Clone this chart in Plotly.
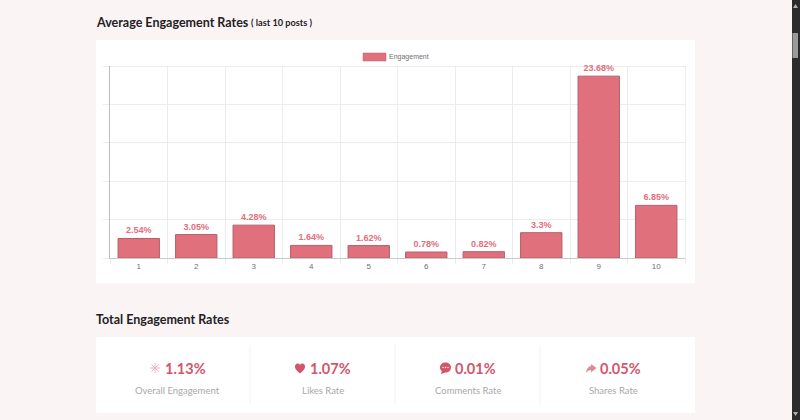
import plotly.graph_objects as go

W, H = 800, 420

# Chart data
posts = ["1", "2", "3", "4", "5", "6", "7", "8", "9", "10"]
engagement = [2.54, 3.05, 4.28, 1.64, 1.62, 0.78, 0.82, 3.3, 23.68, 6.85]
labels = [f"<b>{v}%</b>" for v in engagement]

kpi_values = ["1.13%", "1.07%", "0.01%", "0.05%"]
kpi_names = ["Overall Engagement", "Likes Rate", "Comments Rate", "Shares Rate"]

BG = "#faf4f4"
BAR = "#e0707c"
BAR_EDGE = "#b5606e"
ACCENT = "#d2566a"
INK = "#1f2024"
MUTED = "#a9a9a9"
GRID = "#ececec"
UI_FONT = "Lato"
CHART_FONT = "Liberation Sans"


def px(x):
    return x / W


def py(y):
    return 1 - y / H


def rect(x0, y0, x1, y1, fill, line=None, width=0):
    return dict(type="rect", xref="paper", yref="paper", layer="below",
                x0=px(x0), x1=px(x1), y0=py(y0), y1=py(y1),
                fillcolor=fill, line=dict(color=line or fill, width=width))


def seg(x0, y0, x1, y1, color, width=1):
    return dict(type="line", xref="paper", yref="paper", layer="below",
                x0=px(x0), x1=px(x1), y0=py(y0), y1=py(y1),
                line=dict(color=color, width=width))


def path(points, fill, close=True, line=None, width=0, layer="above"):
    """Build a paper-referenced path from page-pixel commands."""
    parts = []
    for cmd, *nums in points:
        coords = [f"{px(nums[i])},{py(nums[i + 1])}" for i in range(0, len(nums), 2)]
        parts.append(cmd + " " + " ".join(coords))
    d = " ".join(parts) + (" Z" if close else "")
    return dict(type="path", xref="paper", yref="paper", layer=layer, path=d,
                fillcolor=fill, line=dict(color=line or fill, width=width))


def text(x, y, s, size, color, bold=False, anchor="left", family=UI_FONT):
    return dict(xref="paper", yref="paper", x=px(x), y=py(y), text=f"<b>{s}</b>" if bold else s,
                showarrow=False, xanchor=anchor, yanchor="middle",
                font=dict(family=family, size=size, color=color), borderpad=0, borderwidth=0)


fig = go.Figure(go.Bar(
    x=posts, y=engagement, text=labels, textposition="outside", cliponaxis=False,
    textfont=dict(family=CHART_FONT, size=9, color=BAR),
    textangle=0, constraintext="none", width=0.72,
    marker=dict(color=BAR, line=dict(color=BAR_EDGE, width=1)),
    name="Engagement", hoverinfo="skip",
))

shapes = [
    rect(96, 40, 695, 283, "#ffffff"),
    rect(96, 337, 695, 413, "#ffffff"),
    rect(363, 53, 386, 61, BAR, BAR_EDGE, 0.5),
    # closing grid lines on the top and right of the plot
    seg(104, 66.5, 685, 66.5, GRID),
    seg(685.5, 66, 685.5, 263, GRID),
    # scrollbar
    rect(792, 0, 800, 420, "#2c2c2c"),
    rect(792.5, 33, 798, 58, "#9a9a9a"),
    path([("M", 795.5, 4), ("L", 798, 8), ("L", 793, 8)], "#b0b0b0", layer="below"),
    path([("M", 795.5, 416), ("L", 798, 412), ("L", 793, 412)], "#b0b0b0", layer="below"),
]
for x in (250, 395, 540):
    shapes.append(seg(x, 345, x, 405, "#f4f0f0"))

# Sparkle icon
for dx0, dy0, dx1, dy1 in [(-5, 0, 5, 0), (0, -5, 0, 5), (-3.5, -3.5, 3.5, 3.5), (-3.5, 3.5, 3.5, -3.5)]:
    shapes.append(seg(155 + dx0, 368 + dy0, 155 + dx1, 368 + dy1, "#eeb4bd"))

# Heart icon
shapes.append(path([("M", 300, 373.5), ("C", 296, 370, 295, 368.5, 295, 366.5),
                    ("C", 295, 363.5, 298.5, 362.5, 300, 365),
                    ("C", 301.5, 362.5, 305, 363.5, 305, 366.5),
                    ("C", 305, 368.5, 304, 370, 300, 373.5)], ACCENT))

# Comment bubble icon
shapes.append(path([("M", 445.5, 362.5), ("C", 448.5, 362.5, 451, 364.5, 451, 367.5),
                    ("C", 451, 370.5, 448.5, 372.5, 445.5, 372.5),
                    ("L", 441, 374), ("L", 441.8, 371),
                    ("C", 440.5, 370, 440, 369, 440, 367.5),
                    ("C", 440, 364.5, 442.5, 362.5, 445.5, 362.5)], ACCENT))
for cx in (443, 445.5, 448):
    shapes.append(dict(type="circle", xref="paper", yref="paper",
                       x0=px(cx - 0.7), x1=px(cx + 0.7), y0=py(368.2), y1=py(366.8),
                       fillcolor="#ffffff", line=dict(width=0)))

# Share arrow icon
shapes.append(path([("M", 591, 364), ("L", 596.5, 368), ("L", 591, 372.5), ("L", 591, 370),
                    ("C", 589, 370, 587.5, 371, 586, 373),
                    ("C", 586.5, 369, 588, 366.5, 591, 366)], "#dd8a96"))

annotations = [
    text(96, 22, "Average Engagement Rates", 12.5, INK, bold=True),
    text(251, 22.5, "( last 10 posts )", 9.2, INK, bold=True),
    text(96, 319, "Total Engagement Rates", 12.5, INK, bold=True),
    text(389, 57, "Engagement", 7, "#707070", family=CHART_FONT),
]
for vx, nx, value, name in zip((165, 310, 455, 600), (177.5, 322.5, 467.5, 613), kpi_values, kpi_names):
    annotations.append(text(vx, 368.5, value, 14.5, ACCENT, bold=True))
    annotations.append(text(nx, 390, name, 9.5, MUTED, anchor="center"))

fig.update_layout(
    width=W, height=H, margin=dict(l=0, r=0, t=0, b=0), autosize=False,
    paper_bgcolor=BG, plot_bgcolor="rgba(0,0,0,0)",
    showlegend=False, shapes=shapes, annotations=annotations,
    bargap=0.28,
    xaxis=dict(domain=[px(110), px(685)], type="category", tickson="boundaries",
               ticks="outside", ticklen=5, tickcolor=GRID, tickwidth=1,
               showgrid=True, gridcolor=GRID, gridwidth=1,
               showline=True, linecolor="#c9c9c9", linewidth=1, zeroline=False,
               tickfont=dict(family=CHART_FONT, size=8, color="#707070"), tickangle=0),
    yaxis=dict(domain=[py(258), py(66)], range=[0, 25], dtick=5,
               showticklabels=False, ticks="outside", ticklen=6, tickcolor=GRID, tickwidth=1,
               showgrid=True, gridcolor=GRID, gridwidth=1,
               showline=True, linecolor="#bdbdbd", linewidth=1, zeroline=False),
)

fig.write_html("out.html", config=dict(displayModeBar=False))
